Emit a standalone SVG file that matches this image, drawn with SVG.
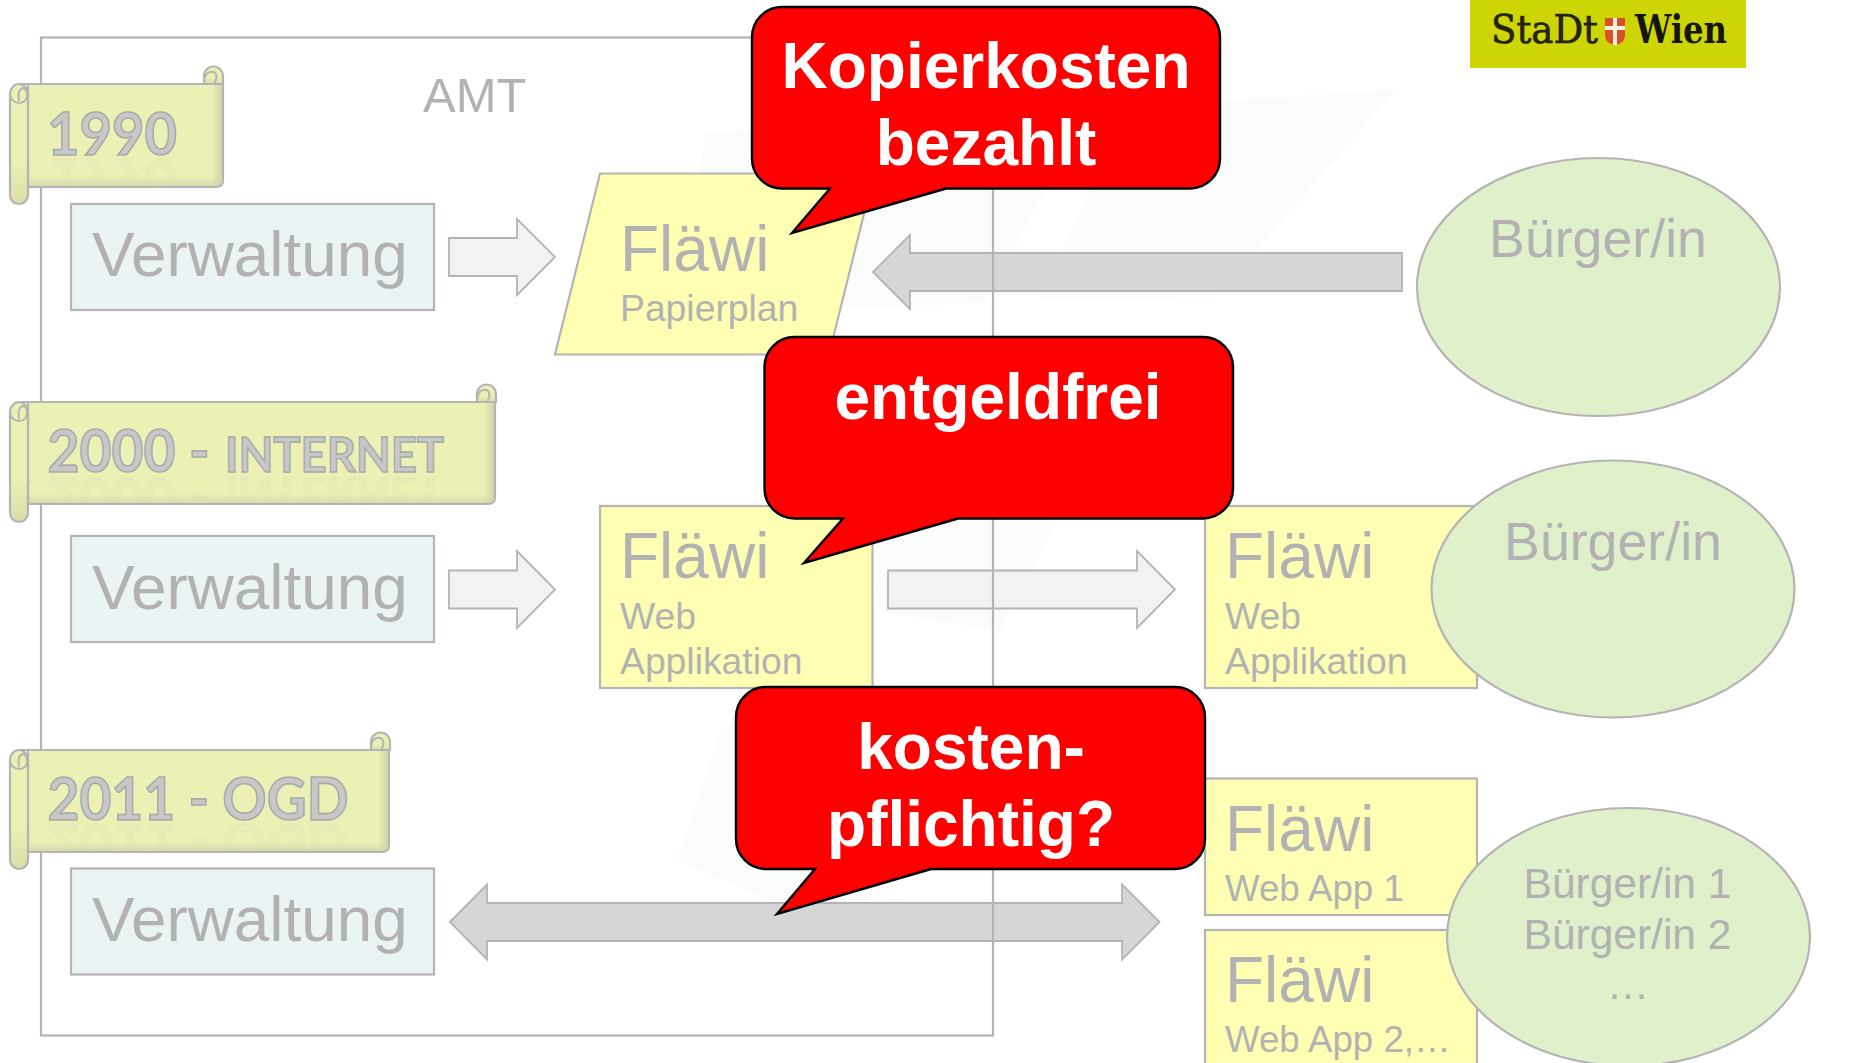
<svg xmlns="http://www.w3.org/2000/svg" xmlns:xlink="http://www.w3.org/1999/xlink" width="1853" height="1063" viewBox="0 0 1853 1063">
<style>
text{font-family:"Liberation Sans",Arial,sans-serif;fill:#b2b2b2}
.ln{stroke:#b4b4b4;stroke-width:2.2;stroke-linejoin:miter}
.arr{stroke:#b4b4b4;stroke-width:1.8;stroke-linejoin:miter}
.verw{fill:#eaf4f5}.fl{fill:#ffffb3}.el{fill:#dff0cb;stroke:#b4b4b4;stroke-width:2.2}
.al{fill:#f2f2f2}.ad{fill:#d6d6d6}
.wm{fill:#fafbfb}
.big{font-size:63.800px}.mid{font-size:64px}.sub{font-size:37.300px}.sub2{font-size:36.700px}.bg{font-size:53.700px}.bg2{font-size:42.500px}
.co{fill:#ff0000;stroke:#000;stroke-width:2.4;stroke-linejoin:miter}
text.cot{font-weight:700;font-size:64px;fill:#fff;text-anchor:middle}
.scr{fill:url(#sv);stroke:#b4b4b4;stroke-width:2.2}
.shade{fill:url(#sh)}
.roll{fill:url(#rv);stroke:#b4b4b4;stroke-width:2.2}
.curl{fill:none;stroke:#b4b4b4;stroke-width:2}
text.yr{font-family:Lato,"Liberation Sans",sans-serif;font-weight:700;fill:#c8c8c8;stroke:#a9a9a9;stroke-width:1.6;font-size:60px}
text.yr2{font-family:Lato,"Liberation Sans",sans-serif;font-weight:700;fill:#c8c8c8;stroke:#a9a9a9;stroke-width:1.4;font-size:48px}
</style>
<defs>
<linearGradient id="sv" x1="0" y1="0" x2="0" y2="1"><stop offset="0" stop-color="#ecf0b4"/><stop offset=".9" stop-color="#ecf0b4"/><stop offset="1" stop-color="#d6d8ac"/></linearGradient>
<linearGradient id="sh" x1="0" y1="0" x2="1" y2="0"><stop offset="0" stop-color="#d0d2a8" stop-opacity="0"/><stop offset="1" stop-color="#d0d2a8"/></linearGradient>
<linearGradient id="rv" x1="0" y1="0" x2="0" y2="1"><stop offset="0" stop-color="#ecf0b4"/><stop offset=".65" stop-color="#ecf0b4"/><stop offset="1" stop-color="#dcdca8"/></linearGradient>
<linearGradient id="fg" x1="0" y1="0" x2="0" y2="1"><stop offset="0" stop-color="#fff" stop-opacity=".14"/><stop offset=".7" stop-color="#fff" stop-opacity="0"/></linearGradient>
<mask id="fade" maskContentUnits="objectBoundingBox"><rect width="1" height="1" fill="url(#fg)"/></mask>
</defs>

<g id="watermark">
<path class="wm" d="M706 133L1395 90L1216 297L1040 300L1090 190L1045 190L985 303L845 308L680 300Z"/>
<path class="wm" d="M1057 520L1000 632L875 610L880 500Z"/>
<path class="wm" d="M723 727L677 860L775 902L865 908L880 870L800 700Z"/>
</g>

<g id="connectors">
<path id="arrow-1990-out" class="al arr" d="M449 238H517V219L555 257L517 295V276H449Z"/>
<path id="arrow-1990-back" class="ad arr" d="M1402 253H910V235L873 272L910 309V291H1402Z"/>
<path id="arrow-2000-out" class="al arr" d="M449 570.500H517V551L555 589.500L517 628V608.500H449Z"/>
<path id="arrow-2000-mid" class="al arr" d="M888 570.500H1137V551L1175 589.500L1137 628V608.500H888Z"/>
<path id="arrow-2011-both" class="ad arr" d="M450 922L487 884.500V903H1122V884.500L1159.500 922L1122 959.500V941H487V959.500Z"/>
</g>

<rect id="amt-frame" x="41" y="37.500" width="952" height="998" fill="none" stroke="#b4b4b4" stroke-width="2.200"/>
<text id="amt-label" x="423" y="112" font-size="49">AMT</text>

<g id="scroll-1990">
<path class="roll" d="M204 84V76A9.500 9.500 0 0 1 223 76V84Z"/>
<path class="curl" d="M204 84Q204 70 214 72Q219 76 214 84"/>
<path class="scr" d="M19 84H223V180Q223 187 216 187H28V84Z"/>
<path class="shade" d="M212 85H222V180Q222 186 216 186H212Z"/>
<path class="roll" d="M10 94A9 10 0 0 1 28 94V195A9 9 0 0 1 10 195Z"/>
<path class="curl" d="M10 94A9 9 0 0 0 28 94M19 101Q17 88 24 88Q29 92 26 100"/>
<text id="t1990" class="yr" x="47" y="155" textLength="130" lengthAdjust="spacingAndGlyphs">1990</text>
<g mask="url(#fade)"><use href="#t1990" transform="translate(0 314) scale(1 -1)"/></g>
</g>

<g id="scroll-2000">
<path class="roll" d="M477 402V394A9.500 9.500 0 0 1 496 394V402Z"/>
<path class="curl" d="M477 402Q477 388 487 390Q492 394 487 402"/>
<path class="scr" d="M19 402H495V497Q495 504 488 504H28V402Z"/>
<path class="shade" d="M484 403H494V497Q494 503 488 503H484Z"/>
<path class="roll" d="M10 412A9 10 0 0 1 28 412V513A9 9 0 0 1 10 513Z"/>
<path class="curl" d="M10 412A9 9 0 0 0 28 412M19 419Q17 406 24 406Q29 410 26 418"/>
<text id="t2000" class="yr" x="47.500" y="472" textLength="162" lengthAdjust="spacingAndGlyphs">2000 -</text>
<text id="t2000b" class="yr2" x="225" y="472" textLength="219" lengthAdjust="spacingAndGlyphs">INTERNET</text>
<g mask="url(#fade)"><use href="#t2000" transform="translate(0 950) scale(1 -1)"/></g>
<g mask="url(#fade)"><use href="#t2000b" transform="translate(0 950) scale(1 -1)"/></g>
</g>

<g id="scroll-2011">
<path class="roll" d="M371 750V742A9.500 9.500 0 0 1 390 742V750Z"/>
<path class="curl" d="M371 750Q371 736 381 738Q386 742 381 750"/>
<path class="scr" d="M19 750H389V845Q389 852 382 852H28V750Z"/>
<path class="shade" d="M378 751H388V845Q388 851 382 851H378Z"/>
<path class="roll" d="M10 760A9 10 0 0 1 28 760V860A9 9 0 0 1 10 860Z"/>
<path class="curl" d="M10 760A9 9 0 0 0 28 760M19 767Q17 754 24 754Q29 758 26 766"/>
<text id="t2011" class="yr" x="47.500" y="819.500" textLength="301" lengthAdjust="spacingAndGlyphs">2011 - OGD</text>
<g mask="url(#fade)"><use href="#t2011" transform="translate(0 1643) scale(1 -1)"/></g>
</g>

<g id="verwaltung-1990"><rect class="verw ln" x="71" y="204" width="363" height="106"/><text class="big" x="92" y="276">Verwaltung</text></g>
<g id="verwaltung-2000"><rect class="verw ln" x="71" y="539" width="363" height="106" transform="translate(0 -3)"/><text class="big" x="92" y="608.500">Verwaltung</text></g>
<g id="verwaltung-2011"><rect class="verw ln" x="71" y="868.500" width="363" height="106"/><text class="big" x="92" y="941">Verwaltung</text></g>

<g id="flaewi-papierplan"><path class="fl ln" d="M600 173.500H874L829 354.500H555Z"/><text class="mid" x="620" y="271">Fläwi</text><text class="sub" x="620" y="321">Papierplan</text></g>
<g id="flaewi-web-amt"><rect class="fl ln" x="600" y="506" width="272.500" height="182"/><text class="mid" x="620" y="578">Fläwi</text><text class="sub" x="620" y="628.500">Web</text><text class="sub" x="620" y="674">Applikation</text></g>
<g id="flaewi-web-buerger"><rect class="fl ln" x="1205" y="506" width="272" height="182"/><text class="mid" x="1225" y="578">Fläwi</text><text class="sub" x="1225" y="628.500">Web</text><text class="sub" x="1225" y="674">Applikation</text></g>
<g id="flaewi-app1"><rect class="fl ln" x="1205" y="778.500" width="272" height="136.500"/><text class="mid" x="1225" y="851">Fläwi</text><text class="sub2" x="1225" y="900.500">Web App 1</text></g>
<g id="flaewi-app2"><rect class="fl ln" x="1205" y="930" width="272" height="140"/><text class="mid" x="1225" y="1002">Fläwi</text><text class="sub2" x="1225" y="1052">Web App 2,…</text></g>

<g id="buerger-1990"><ellipse class="el" cx="1598.500" cy="287" rx="181.500" ry="129"/><text class="bg" x="1598" y="257" text-anchor="middle">Bürger/in</text></g>
<g id="buerger-2000"><ellipse class="el" cx="1613" cy="589" rx="181.500" ry="128.500"/><text class="bg" x="1613" y="559.500" text-anchor="middle">Bürger/in</text></g>
<g id="buerger-2011"><ellipse class="el" cx="1628.500" cy="937" rx="181.500" ry="129"/><text class="bg2" x="1627.500" y="898" text-anchor="middle">Bürger/in 1</text><text class="bg2" x="1627.500" y="949" text-anchor="middle">Bürger/in 2</text><text class="bg2" x="1628" y="999" text-anchor="middle">…</text></g>

<g id="logo">
<rect x="1470" y="0" width="276" height="68" fill="#cdd604"/>
<rect x="1605" y="18" width="20" height="18" fill="#d8502a"/>
<path d="M1605 36Q1606 44 1615 45Q1624 44 1625 36Z" fill="#d8502a"/>
<path d="M1613 18h4v8h8v4h-8v15h-4v-15h-8v-4h8z" fill="#f6efe0"/>
<text x="1491" y="43" font-size="40" textLength="107" lengthAdjust="spacingAndGlyphs" style="font-family:'DejaVu Serif',serif;fill:#23230f;stroke:#23230f;stroke-width:.7">StaDt</text>
<text x="1635" y="43" font-size="40" font-weight="700" textLength="92" lengthAdjust="spacingAndGlyphs" style="font-family:'DejaVu Serif',serif;fill:#15150a">Wien</text>
</g>

<g id="callout-kopierkosten"><path class="co" d="M782 7H1190A30 30 0 0 1 1220 37V158.500A30 30 0 0 1 1190 188.500H946L792 233L830 188.500H782A30 30 0 0 1 752 158.500V37A30 30 0 0 1 782 7Z"/><text class="cot" x="986" y="88">Kopierkosten</text><text class="cot" x="986" y="165">bezahlt</text></g>
<g id="callout-entgeldfrei"><path class="co" d="M794.500 337H1203A30 30 0 0 1 1233 367V488.500A30 30 0 0 1 1203 518.500H958L804 563L843 518.500H794.500A30 30 0 0 1 764.500 488.500V367A30 30 0 0 1 794.500 337Z"/><text class="cot" x="998" y="419">entgeldfrei</text></g>
<g id="callout-kostenpflichtig"><path class="co" d="M766 687H1175A30 30 0 0 1 1205 717V839A30 30 0 0 1 1175 869H931L777 914L815 869H766A30 30 0 0 1 736 839V717A30 30 0 0 1 766 687Z"/><text class="cot" x="971" y="769">kosten-</text><text class="cot" x="971" y="845.500">pflichtig?</text></g>
</svg>
